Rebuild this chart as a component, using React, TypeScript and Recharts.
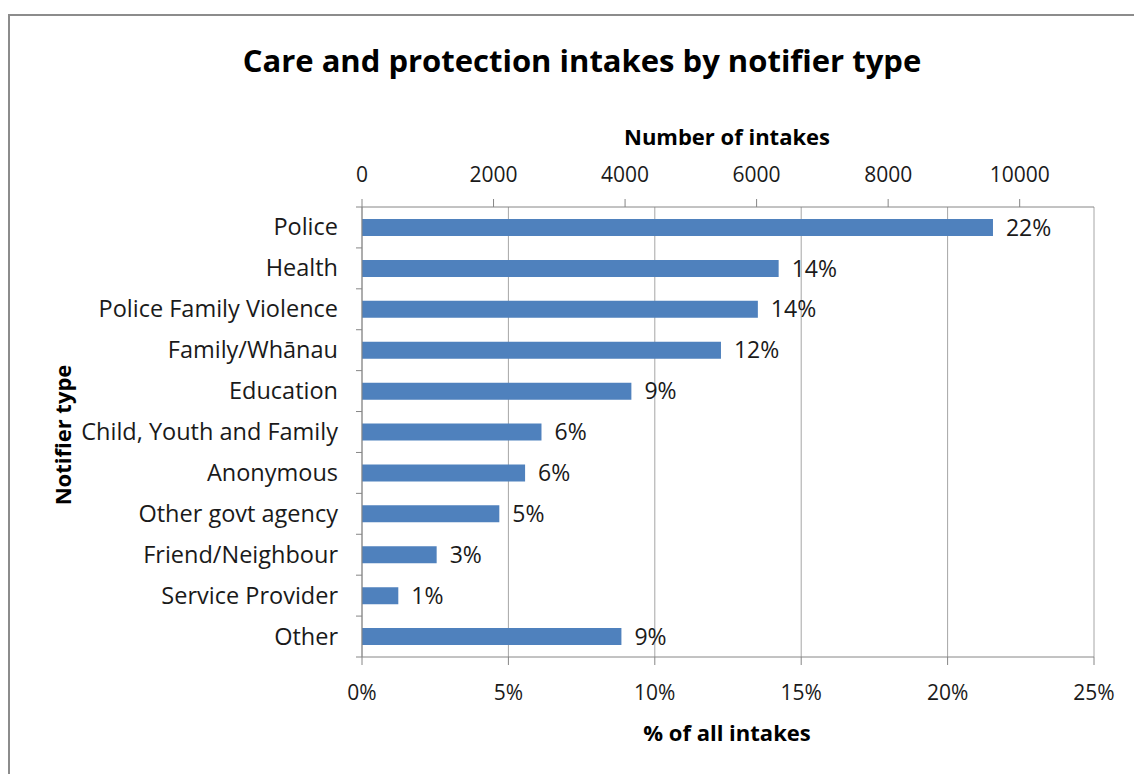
import React from 'react'
import {
  BarChart, Bar, XAxis, YAxis, CartesianGrid, LabelList
} from 'recharts'

const NOTIFIERS = [
  'Police',
  'Health',
  'Police Family Violence',
  'Family/Whānau',
  'Education',
  'Child, Youth and Family',
  'Anonymous',
  'Other govt agency',
  'Friend/Neighbour',
  'Service Provider',
  'Other',
]

// share of all intakes, %
const SHARE = [21.55, 14.23, 13.52, 12.26, 9.2, 6.13, 5.57, 4.69, 2.55, 1.24, 8.86]

const PCT_TICKS = [0, 5, 10, 15, 20, 25]
const COUNT_TICKS = [0, 2000, 4000, 6000, 8000, 10000]
// number of intakes that lines up with 25%
const COUNT_MAX = 11130

const FONT = '"Open Sans", "Liberation Sans", sans-serif'
const INK = '#1a1a1a'
const AXIS = '#868686'
const BLUE = '#4f81bd'

const data = NOTIFIERS.map((name, i) => ({ name, share: SHARE[i] }))

const CHART_W = 1134
const CHART_H = 766
const PLOT_TOP = 199
const PLOT_BOTTOM = 649
const BAND = (PLOT_BOTTOM - PLOT_TOP) / NOTIFIERS.length

function CategoryTick(props: any) {
  const { x, y, payload, index } = props
  const axisX = x + 24
  return (
    <g>
      <text x={x} y={y} dy={8} textAnchor="end" fontSize={23.5} fill={INK} fontFamily={FONT}>
        {payload.value}
      </text>
      <line x1={axisX - 6} x2={axisX} y1={y - BAND / 2} y2={y - BAND / 2} stroke={AXIS} />
      {index === NOTIFIERS.length - 1 && (
        <line x1={axisX - 6} x2={axisX} y1={y + BAND / 2} y2={y + BAND / 2} stroke={AXIS} />
      )}
    </g>
  )
}

const titleStyle: React.CSSProperties = {
  position: 'absolute',
  fontFamily: FONT,
  fontWeight: 700,
  color: '#000',
  whiteSpace: 'nowrap',
  transform: 'translate(-50%, -50%)',
}

export default function App() {
  return (
    <div style={{ position: 'relative', width: CHART_W, height: CHART_H, overflow: 'hidden' }}>
      {/* chart frame, right and bottom edges run off the page */}
      <div style={{
        position: 'absolute', left: 0, top: 6, width: 1300, height: 900,
        border: '2px solid #8c8c8c', boxSizing: 'border-box'
      }} />

      <div style={{ ...titleStyle, left: 574, top: 52, fontSize: 31 }}>
        Care and protection intakes by notifier type
      </div>
      <div style={{ ...titleStyle, left: 719, top: 128, fontSize: 22 }}>Number of intakes</div>
      <div style={{ ...titleStyle, left: 719, top: 724, fontSize: 22 }}>% of all intakes</div>
      <div style={{ ...titleStyle, left: 54, top: 427, fontSize: 22, transform: 'translate(-50%, -50%) rotate(-90deg)' }}>
        Notifier type
      </div>

      <div style={{ position: 'absolute', left: 0, top: 0 }}>
        <BarChart
          width={CHART_W}
          height={CHART_H}
          data={data}
          layout="vertical"
          margin={{ top: 119, right: 48, bottom: 37, left: 0 }}
          barCategoryGap={0}
        >
          <CartesianGrid horizontal={false} vertical stroke="#a6a6a6" xAxisId="pct" />
          <XAxis
            xAxisId="count"
            orientation="top"
            type="number"
            domain={[0, COUNT_MAX]}
            ticks={COUNT_TICKS}
            allowDataOverflow
            height={80}
            tickSize={8}
            tickMargin={17}
            stroke={AXIS}
            tick={{ fontSize: 21, fill: INK, fontFamily: FONT }}
          />
          <XAxis
            xAxisId="pct"
            orientation="bottom"
            type="number"
            domain={[0, 25]}
            ticks={PCT_TICKS}
            tickFormatter={(v) => `${v}%`}
            height={80}
            tickSize={8}
            tickMargin={20}
            stroke={AXIS}
            tick={{ fontSize: 21, fill: INK, fontFamily: FONT }}
          />
          <YAxis
            type="category"
            dataKey="name"
            width={354}
            tickLine={false}
            tickSize={0}
            tickMargin={24}
            stroke={AXIS}
            interval={0}
            tick={<CategoryTick />}
          />
          <Bar dataKey="share" xAxisId="pct" fill={BLUE} barSize={17} isAnimationActive={false}>
            <LabelList
              dataKey="share"
              position="right"
              offset={13}
              formatter={(v: any) => `${Math.round(Number(v))}%`}
              style={{ fontSize: 23, fill: INK, fontFamily: FONT }}
            />
          </Bar>
        </BarChart>
      </div>
    </div>
  )
}
